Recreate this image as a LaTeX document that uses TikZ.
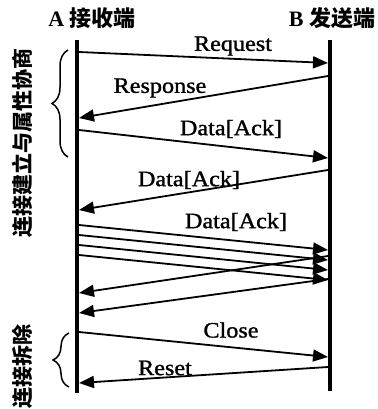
\documentclass[tikz,border=0pt]{standalone}
\usepackage{fontspec}
\setmainfont{Liberation Serif}
\newfontfamily\lblfont{Liberation Serif}[FakeBold=1.2]
\newfontfamily\cjk{Noto Sans CJK SC}
\usetikzlibrary{
    arrows.meta,
    decorations.pathreplacing
}

\begin{document}
\begin{tikzpicture}[
        x=1pt, y=-1pt,
        lifeline/.style={line width=4.3pt},
        msg/.style={line width=1.8pt, -{Triangle[length=15pt, width=12pt]}},
        lbl/.style={font=\fontsize{22}{22}\selectfont\lblfont, inner sep=0pt, xscale=1.1},
        head/.style={font=\fontsize{22}{22}\selectfont\bfseries, inner sep=0pt},
        side/.style={font=\fontsize{21}{21}\selectfont\cjk\bfseries, rotate=90, inner sep=0pt},
        phase/.style={decorate, decoration={brace, amplitude=16pt}, line width=1.5pt}
    ]
        \useasboundingbox (0,0) rectangle (377,409);

        % Headers
        \node[head] (hdrA) at (92,18) {A {\cjk 接收端}};
        \node[head] (hdrB) at (332,18) {B {\cjk 发送端}};

        % Lifelines
        \coordinate (atop) at (77,40);
        \coordinate (abot) at (77,393);
        \coordinate (btop) at (330,40);
        \coordinate (bbot) at (330,391);
        \draw[lifeline] (atop) -- (abot);
        \draw[lifeline] (btop) -- (bbot);

        % Points on A
        \coordinate (a1) at (79,52);
        \coordinate (a2) at (79,118);
        \coordinate (a3) at (79,130);
        \coordinate (a4) at (79,210);
        \coordinate (a6) at (79,293);
        \coordinate (a7) at (79,313);
        \coordinate (a8) at (79,332);
        \coordinate (a9) at (79,383);

        % Points on B
        \coordinate (b1) at (328,63);
        \coordinate (b2) at (328,76);
        \coordinate (b3) at (328,158);
        \coordinate (b4) at (328,170);
        \coordinate (b6) at (328,256);
        \coordinate (b7) at (328,279);
        \coordinate (b8) at (328,357);
        \coordinate (b9) at (328,367);

        % Connection setup
        \draw[msg] (a1) -- (b1);
        \node[lbl] (lreq) at (233,46) {Request};
        \draw[msg] (b2) -- (a2);
        \node[lbl] (lresp) at (160,88) {Response};
        \draw[msg] (a3) -- (b3);
        \node[lbl] (ldata1) at (231,129) {Data[Ack]};
        \draw[msg] (b4) -- (a4);
        \node[lbl] (ldata2) at (189,180) {Data[Ack]};

        % Data burst
        \node[lbl] (ldata3) at (236,222) {Data[Ack]};
        \foreach \i in {0,1,2,3} {
            \coordinate (s\i) at (79,225+10*\i);
            \coordinate (e\i) at (328,250+10*\i);
            \draw[msg] (s\i) -- (e\i);
        }
        \draw[msg] (b6) -- (a6);
        \draw[msg] (b7) -- (a7);

        % Teardown
        \draw[msg] (a8) -- (b8);
        \node[lbl] (lclose) at (231,330) {Close};
        \draw[msg] (b9) -- (a9);
        \node[lbl] (lreset) at (165,368) {Reset};

        % Phase braces
        \coordinate (p1s) at (68,157);
        \coordinate (p1e) at (68,50);
        \coordinate (p2s) at (69,387);
        \coordinate (p2e) at (69,333);
        \draw[phase] (p1s) -- (p1e);
        \draw[phase] (p2s) -- (p2e);
        \node[side] (ph1) at (22,143) {连接建立与属性协商};
        \node[side] (ph2) at (22,366) {连接拆除};
    \end{tikzpicture}
\end{document}
